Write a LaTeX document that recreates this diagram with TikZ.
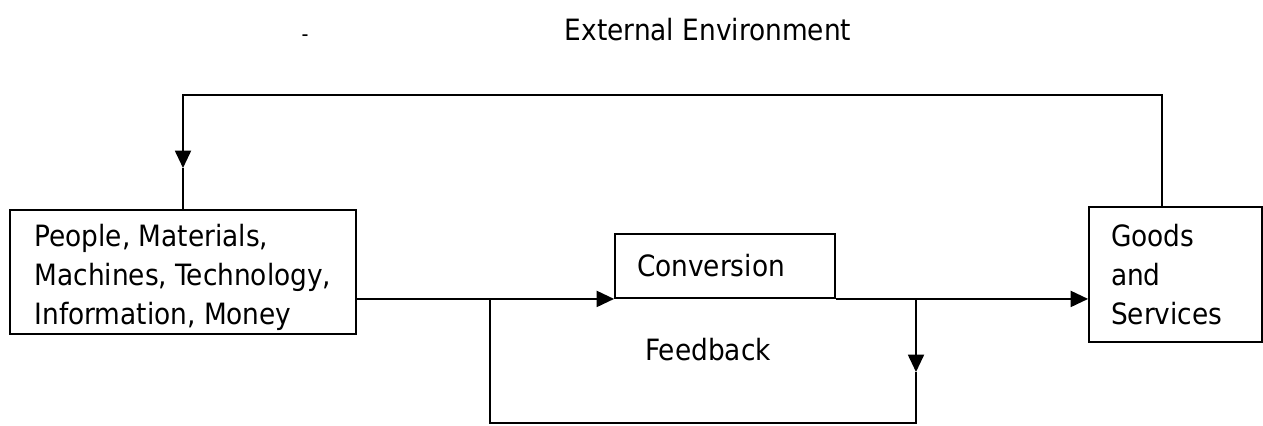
\documentclass[tikz,border=0pt]{standalone}
\usepackage{fontspec}
\setmainfont{DejaVu Sans Condensed}
\usetikzlibrary{arrows.meta}
\begin{document}
\begin{tikzpicture}[>={Triangle[length=13pt,width=12pt]},x=0.75pt,y=-0.75pt,line width=1.4pt,
	box/.style={draw,line width=1.4pt,inner xsep=16.5pt,inner ysep=0pt,align=left},
	txt/.style={font=\fontsize{22}{29}\selectfont}]
	\useasboundingbox (0,0) rectangle (1263,425);
	% title
	\node[txt] (title) at (708,30) {External Environment};
	\node[font=\fontsize{16}{18}\selectfont] (dash) at (305,38) {-};
	% boxes
	\node[box,txt,minimum width=259.5pt,minimum height=93pt] (inputs) at (183,272) {\rule{0pt}{25pt}People, Materials,\\Machines, Technology,\\Information, Money};
	\node[box,txt,text width=132pt,minimum height=48pt] (conv) at (725,266) {Conversion};
	\node[box,txt,text width=96.75pt,minimum height=101.25pt] (goods) at (1175.5,274.5) {Goods\\and\\Services};
	\node[txt] (fbtext) at (708,350) {Feedback};
	% main flow
	\draw[->] (inputs.east |- conv.south west) -- (conv.south west);
	\draw[->] (conv.south east) -- (goods.west |- conv.south east);
	% loop over the top
	\coordinate (topR) at (1162,95);
	\coordinate (topL) at (inputs.north |- topR);
	\coordinate (inTip) at (inputs.north |- 0,168);
	\draw[->] (goods.north -| topR) -- (topR) -- (topL) -- (inTip);
	\draw (inTip) -- (inputs.north);
	% feedback loop
	\coordinate (fbTop) at (916,300);
	\coordinate (fbTip) at (916,372);
	\coordinate (fbR) at (916,423);
	\coordinate (fbL) at (490,423);
	\coordinate (fbEnd) at (490,299);
	\draw[->] (fbTop) -- (fbTip);
	\draw (fbTip) -- (fbR) -- (fbL) -- (fbEnd);
\end{tikzpicture}
\end{document}
